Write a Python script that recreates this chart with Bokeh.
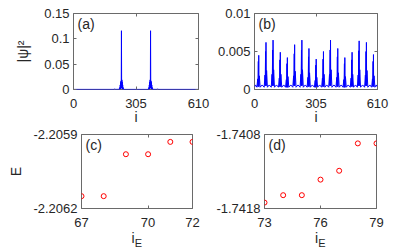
from bokeh.plotting import figure
from bokeh.models import Range1d, FixedTicker, LinearAxis, Label, CustomJSTickFormatter
from bokeh.layouts import column, row
from bokeh.embed import file_html
from bokeh.resources import INLINE

# ---------------- data ----------------
# panel (a): |psi|^2 versus site i (line vertices)
a_i = [0, 198, 201, 204, 222, 224, 225, 226, 227, 228, 229, 230, 231, 232, 233, 234,
       235, 236, 237, 238, 239, 240, 241, 242, 243, 244, 246,
       364, 366, 367, 368, 369, 370, 371, 372, 373, 374, 375, 376, 377, 378, 379,
       380, 381, 382, 383, 384, 385, 386, 388, 407, 410, 413, 610]
a_psi = [0.0002, 0.0002, 0.0015, 0.0002, 0.0004, 0.0015, 0.0003, 0.004, 0.0005, 0.009, 0.001, 0.014, 0.002, 0.017, 0.003, 0.116,
         0.003, 0.019, 0.002, 0.015, 0.001, 0.009, 0.0005, 0.004, 0.0003, 0.0015, 0.0002,
         0.0002, 0.0015, 0.0003, 0.004, 0.0005, 0.009, 0.001, 0.015, 0.002, 0.019, 0.003, 0.116, 0.003, 0.017, 0.002,
         0.014, 0.001, 0.009, 0.0005, 0.004, 0.0003, 0.0015, 0.0004, 0.0002, 0.0015, 0.0002, 0.0002]

# panel (b): |psi|^2 versus site i (line vertices)
b_i = [0, 5,
       12, 16, 17, 19, 20, 21, 22, 24, 28, 38,
       48, 52, 53, 55, 56, 57, 58, 60, 64, 73,
       83, 87, 88, 90, 91, 92, 93, 95, 99, 109,
       119, 123, 124, 126, 127, 128, 129, 131, 135, 145,
       154, 158, 159, 161, 162, 163, 164, 166, 170, 180,
       190, 194, 195, 197, 198, 199, 200, 202, 206, 216,
       226, 230, 231, 233, 234, 235, 236, 238, 242, 252,
       261, 265, 266, 268, 269, 270, 271, 273, 277, 287,
       297, 301, 302, 304, 305, 306, 307, 309, 313, 323,
       333, 337, 338, 340, 341, 342, 343, 345, 349, 358,
       368, 372, 373, 375, 376, 377, 378, 380, 384, 394,
       404, 408, 409, 411, 412, 413, 414, 416, 420, 430,
       439, 443, 444, 446, 447, 448, 449, 451, 455, 465,
       475, 479, 480, 482, 483, 484, 485, 487, 491, 501,
       510, 514, 515, 517, 518, 519, 520, 522, 526, 536,
       546, 550, 551, 553, 554, 555, 556, 558, 562, 572,
       581, 585, 586, 588, 589, 590, 591, 593, 597, 604, 610]
b_psi = [0.0003, 0.0006,
         0.0003, 0.0014, 0.0004, 0.0037, 0.0004, 0.0045, 0.0004, 0.0018, 0.0003, 0.0006,
         0.0003, 0.0019, 0.0005, 0.0050, 0.0005, 0.0062, 0.0005, 0.0025, 0.0003, 0.0006,
         0.0003, 0.0020, 0.0005, 0.0052, 0.0005, 0.0065, 0.0005, 0.0026, 0.0003, 0.0006,
         0.0003, 0.0015, 0.0004, 0.0039, 0.0004, 0.0049, 0.0004, 0.0020, 0.0003, 0.0006,
         0.0003, 0.0013, 0.0003, 0.0034, 0.0003, 0.0042, 0.0003, 0.0017, 0.0003, 0.0006,
         0.0003, 0.0018, 0.0005, 0.0047, 0.0005, 0.0059, 0.0005, 0.0024, 0.0003, 0.0006,
         0.0003, 0.0020, 0.0005, 0.0052, 0.0005, 0.0065, 0.0005, 0.0026, 0.0003, 0.0006,
         0.0003, 0.0016, 0.0004, 0.0043, 0.0004, 0.0054, 0.0004, 0.0022, 0.0003, 0.0006,
         0.0003, 0.0012, 0.0003, 0.0032, 0.0003, 0.0040, 0.0003, 0.0016, 0.0003, 0.0006,
         0.0003, 0.0015, 0.0004, 0.0040, 0.0004, 0.0050, 0.0004, 0.0020, 0.0003, 0.0006,
         0.0003, 0.0020, 0.0005, 0.0052, 0.0005, 0.0065, 0.0005, 0.0026, 0.0003, 0.0006,
         0.0003, 0.0016, 0.0004, 0.0043, 0.0004, 0.0054, 0.0004, 0.0022, 0.0003, 0.0006,
         0.0003, 0.0013, 0.0003, 0.0034, 0.0003, 0.0042, 0.0003, 0.0017, 0.0003, 0.0006,
         0.0003, 0.0015, 0.0004, 0.0039, 0.0004, 0.0049, 0.0004, 0.0020, 0.0003, 0.0006,
         0.0003, 0.0019, 0.0005, 0.0051, 0.0005, 0.0064, 0.0005, 0.0026, 0.0003, 0.0006,
         0.0003, 0.0019, 0.0005, 0.0050, 0.0005, 0.0062, 0.0005, 0.0025, 0.0003, 0.0006,
         0.0003, 0.0014, 0.0004, 0.0037, 0.0004, 0.0046, 0.0004, 0.0018, 0.0003, 0.0006, 0.0003]

# panel (c): energies E versus index i_E
c_iE = [67, 68, 69, 70, 71, 72]
c_E = [-2.20615, -2.20615, -2.20598, -2.20598, -2.20593, -2.20593]

# panel (d): energies E versus index i_E
d_iE = [73, 74, 75, 76, 77, 78, 79]
d_E = [-1.74172, -1.74162, -1.74162, -1.74141, -1.74129, -1.74092, -1.74092]

# ticks
a_xticks = [0, 305, 610]
a_yticks = [0, 0.05, 0.1, 0.15]
b_xticks = [0, 305, 610]
b_yticks = [0, 0.005, 0.01]
c_xticks = [67, 70, 72]
c_yticks = [-2.2062, -2.2059]
d_xticks = [73, 76, 79]
d_yticks = [-1.7418, -1.7408]

# ---------------- style ----------------
FONT = "Liberation Sans"
TXT = "#262626"
FRAME = "#6a6a6a"
TICK_FS = "13px"
LAB_FS = "14px"
NBSP = "\u00a0"


def style_axis(ax, ticks, show_labels=True):
    ax.ticker = FixedTicker(ticks=ticks)
    ax.axis_line_color = None
    ax.major_tick_in = 3
    ax.major_tick_out = 0
    ax.major_tick_line_color = FRAME
    ax.minor_tick_line_color = None
    ax.major_label_text_font = FONT
    ax.major_label_text_color = TXT
    ax.axis_label_text_font = FONT
    ax.axis_label_text_color = TXT
    ax.axis_label_text_font_style = "normal"
    ax.axis_label_text_font_size = LAB_FS
    if show_labels:
        ax.formatter = CustomJSTickFormatter(code="return tick.toString()")
        ax.major_label_text_font_size = TICK_FS
    else:
        ax.formatter = CustomJSTickFormatter(code="return ''")
        ax.major_label_text_font_size = "0px"
        ax.major_label_standoff = 0


def make_fig(w, h, xr, yr, xt, yt, bl, br, bt, bb):
    p = figure(width=w, height=h, x_range=Range1d(*xr), y_range=Range1d(*yr),
               output_backend="svg", toolbar_location=None, tools="",
               x_axis_location=None, y_axis_location=None,
               min_border_left=bl, min_border_right=br,
               min_border_top=bt, min_border_bottom=bb)
    p.grid.visible = False
    p.outline_line_color = FRAME
    p.outline_line_width = 1
    p.outline_line_alpha = 1
    p.background_fill_color = "white"
    p.border_fill_color = "white"
    bottom = LinearAxis()
    style_axis(bottom, xt)
    bottom.major_label_standoff = 9
    p.add_layout(bottom, "below")
    left = LinearAxis()
    style_axis(left, yt)
    left.major_label_standoff = 4
    p.add_layout(left, "left")
    top = LinearAxis()
    style_axis(top, xt, show_labels=False)
    p.add_layout(top, "above")
    right = LinearAxis()
    style_axis(right, yt, show_labels=False)
    p.add_layout(right, "right")
    return p, bottom, left


def panel_tag(p, x, y, text):
    p.add_layout(Label(x=x, y=y, x_offset=4, y_offset=-2, text=text,
                       text_baseline="top", text_align="left",
                       text_font=FONT, text_font_size="14px", text_color=TXT))


def sub_E(p):
    # second, tick-less axis below that only carries the subscript "E" of i_E
    ax = LinearAxis(ticker=FixedTicker(ticks=[]))
    style_axis(ax, [], show_labels=False)
    ax.major_tick_in = 0
    ax.major_tick_line_color = None
    ax.axis_label = NBSP + "E"
    ax.axis_label_text_font_size = "11px"
    ax.axis_label_standoff = -12
    p.add_layout(ax, "below")


# (a)
pa, pa_x, pa_y = make_fig(214, 127, (0, 610), (0, 0.15), a_xticks, a_yticks, 73, 16, 13, 38)
pa.line(a_i, a_psi, line_color="#0000ff", line_width=1)
pa_x.axis_label = "i"
pa_x.axis_label_standoff = -2
pa_y.axis_label = "|ψ|²"
pa_y.axis_label_standoff = 10
panel_tag(pa, 0, 0.15, "(a)")

# (b)
pb, pb_x, pb_y = make_fig(179, 127, (0, 610), (0, 0.01), b_xticks, b_yticks, 39, 16, 13, 38)
pb.line(b_i, b_psi, line_color="#0000ff", line_width=1)
pb_x.axis_label = "i"
pb_x.axis_label_standoff = -2
panel_tag(pb, 0, 0.01, "(b)")

# (c)
pc, pc_x, pc_y = make_fig(208, 125, (67, 72), (-2.2062, -2.2059), c_xticks, c_yticks, 81, 16, 7, 44)
pc.scatter(c_iE, c_E, marker="circle", size=5, fill_color=None, line_color="#ff0000", line_width=1)
pc_x.axis_label = "i" + NBSP + NBSP
pc_x.axis_label_standoff = 0
pc_y.axis_label = "E"
pc_y.axis_label_standoff = 6
panel_tag(pc, 67, -2.2059, "(c)")
sub_E(pc)

# (d)
pd, pd_x, pd_y = make_fig(184, 125, (73, 79), (-1.7418, -1.7408), d_xticks, d_yticks, 56, 16, 7, 44)
pd.scatter(d_iE, d_E, marker="circle", size=5, fill_color=None, line_color="#ff0000", line_width=1)
pd_x.axis_label = "i" + NBSP + NBSP
pd_x.axis_label_standoff = 0
panel_tag(pd, 73, -1.7408, "(d)")
sub_E(pd)

layout = column(row(pa, pb), row(pc, pd))

open("out.html", "w").write(file_html(layout, INLINE))
